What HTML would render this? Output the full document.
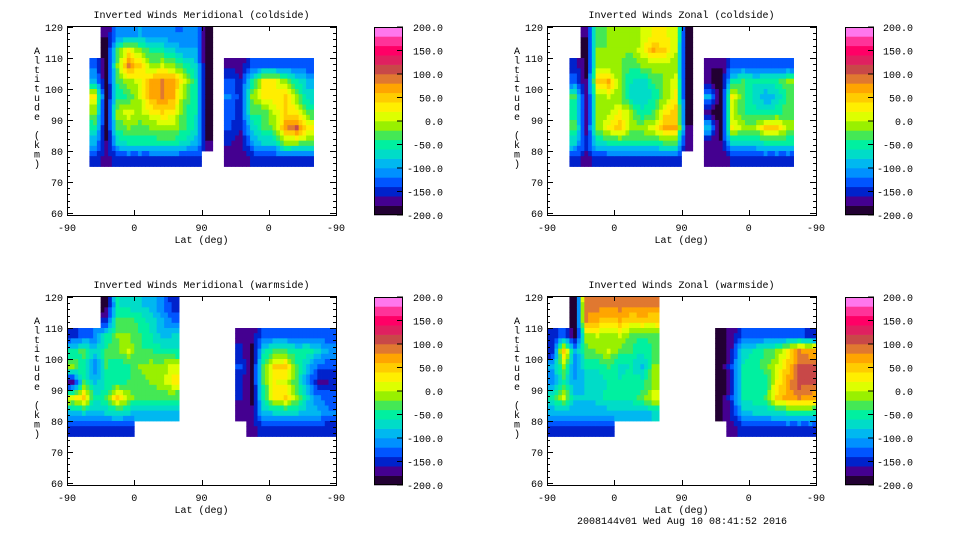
<!DOCTYPE html>
<html><head><meta charset="utf-8">
<style>
html,body{margin:0;padding:0;background:#fff;}
svg{display:block;}
text{font-family:"Liberation Mono",monospace;font-size:10px;fill:#000;}
</style></head>
<body>
<svg id="chart" width="960" height="540" viewBox="0 0 960 540" xmlns="http://www.w3.org/2000/svg"></svg>
<script>
const N = null;
// color levels (band lower bounds), -200..200 step 20
const levelEdges = [-200,-180,-160,-140,-120,-100,-80,-60,-40,-20,0,20,40,60,80,100,120,140,160,180,200];
const bandColors = ["#220033","#440090","#0022cc","#0055ff","#0090ff","#00b8f0","#00dcc8","#00f0a0","#44e855","#99f000",
                    "#ddff00","#ffee00","#ffcc00","#ffa500","#e07830","#c84848","#e02060","#ff0066","#ff3399","#ff77ee"];
const colorbarTicks = ["200.0","150.0","100.0","50.0","0.0","-50.0","-100.0","-150.0","-200.0"];
const colorbarTickValues = [200,150,100,50,0,-50,-100,-150,-200];
const altTicks = [60,70,80,90,100,110,120];
const latTickLabels = ["-90","0","90","0","-90"];
const latTickPos = [0,90,180,270,360];
// grid: columns span 15 units of track distance (0..360), rows 5 km (top row 115-120 ... bottom 75-80)
const colWidth = 15;
const rowAltTop = [120,115,110,105,100,95,90,85,80];
const rowAltBot = [115,110,105,100,95,90,85,80,75];
const titles = ["Inverted Winds Meridional (coldside)","Inverted Winds Zonal (coldside)","Inverted Winds Meridional (warmside)","Inverted Winds Zonal (warmside)"];

// each array = one column (u bins 0..23), values from top row to bottom row
const merCold = [
 [N,N,N,N,N,N,N,N,N],[N,N,N,N,N,N,N,N,N],
 [N,N,-130,-90,20,-20,-50,-100,-150],
 [-180,-190,-190,-190,-190,-190,-190,-180,-170],
 [-120,-40,-20,-40,-50,-10,-40,-80,-150],
 [-110,20,90,-10,-40,10,-20,-60,-150],
 [-100,-20,40,10,0,-10,-30,-60,-150],
 [-110,-50,-10,60,60,20,-20,-60,-150],
 [-110,-60,0,80,80,40,-10,-50,-150],
 [-120,-80,-20,70,60,30,-10,-50,-150],
 [-120,-100,-50,0,-20,-40,-40,-70,-150],
 [-110,-100,-80,-60,-60,-60,-70,-90,-150],
 [-200,-200,-200,-200,-200,-200,-190,-180,N],
 [N,N,N,N,N,N,N,N,N],
 [N,N,-170,-130,-120,-130,-140,-160,-180],
 [N,N,-170,-160,-150,-150,-160,-170,-180],
 [N,N,-140,-60,-20,-40,-80,-110,-160],
 [N,N,-130,20,20,-40,-30,-80,-150],
 [N,N,-130,20,30,0,-20,-80,-150],
 [N,N,-130,-20,40,40,70,-10,-150],
 [N,N,-130,-60,-20,30,100,-20,-150],
 [N,N,-140,-90,-70,-40,30,-30,-150],
 [N,N,N,N,N,N,N,N,N],[N,N,N,N,N,N,N,N,N]
];
const zonCold = [
 [N,N,N,N,N,N,N,N,N],[N,N,N,N,N,N,N,N,N],
 [N,N,-150,-130,-40,-60,-30,-80,-150],
 [-180,-190,-190,-180,-180,-180,-170,-150,-170],
 [-30,-20,-10,40,-10,-10,-20,-70,-150],
 [-20,-20,-20,60,0,-10,20,-60,-150],
 [-10,-10,-20,-20,-20,20,50,-50,-150],
 [-10,-20,-40,-60,-80,-10,-10,-50,-150],
 [0,10,-20,-80,-80,-60,-10,-50,-150],
 [20,60,-10,-40,-60,-40,10,-50,-150],
 [20,40,-10,-20,-20,30,60,-40,-150],
 [10,0,-10,10,30,50,60,-40,-150],
 [-190,-200,-200,-200,-200,-190,-180,-180,N],
 [N,N,N,N,N,N,N,N,N],
 [N,N,-180,-180,-100,-180,-90,-180,-180],
 [N,N,-180,-200,-200,-200,-200,-180,-180],
 [N,N,-140,-60,20,10,20,-80,-160],
 [N,N,-130,-40,-40,-40,-10,-80,-150],
 [N,N,-130,-60,-70,-50,-20,-80,-150],
 [N,N,-130,-50,-100,-60,40,-60,-150],
 [N,N,-130,-50,-80,-50,40,-60,-150],
 [N,N,-140,-20,-30,-30,-10,-60,-150],
 [N,N,N,N,N,N,N,N,N],[N,N,N,N,N,N,N,N,N]
];
const merWarm = [
 [N,N,-150,-60,-20,-180,10,-90,-150],
 [N,N,-130,-30,-60,-40,50,-80,-150],
 [N,N,-120,-80,-120,-90,-60,-90,-150],
 [-190,-160,-60,-40,-40,-60,-40,-80,-150],
 [-60,-40,-20,-30,-60,-50,50,-70,-150],
 [-70,-30,-20,0,-50,-40,-10,-80,-150],
 [-80,-50,-40,-40,-20,-30,-40,-90,N],
 [-90,-70,-60,-40,-10,-20,-40,-90,N],
 [-120,-100,-90,-50,-10,-10,-30,-90,N],
 [-150,-130,-80,-60,10,30,-40,-90,N],
 [N,N,N,N,N,N,N,N,N],[N,N,N,N,N,N,N,N,N],[N,N,N,N,N,N,N,N,N],[N,N,N,N,N,N,N,N,N],
 [N,N,N,N,N,N,N,N,N],
 [N,N,-170,-150,-140,-150,-160,-170,N],
 [N,N,-170,-190,-190,-190,-190,-170,-170],
 [N,N,-140,-70,-40,-40,-50,-90,-150],
 [N,N,-130,-40,40,20,30,-80,-150],
 [N,N,-130,-40,50,10,40,-80,-150],
 [N,N,-130,-60,-40,-40,-20,-80,-150],
 [N,N,-130,-50,-90,-110,-80,-90,-150],
 [N,N,-130,-80,-130,-170,-120,-100,-150],
 [N,N,-140,-110,-140,-160,-130,-120,-160]
];
const zonWarm = [
 [N,N,-160,-160,-100,-110,-60,-100,-150],
 [N,N,-130,50,-20,-50,0,-100,-150],
 [-200,-200,-190,-100,-120,-100,-80,-100,-160],
 [90,80,-10,-30,-60,-80,-80,-100,-150],
 [90,60,0,-20,-60,-80,-70,-100,-150],
 [80,50,-10,0,-40,-60,-50,-90,-150],
 [90,60,0,-30,-70,-60,-50,-90,N],
 [90,40,-30,-40,-60,-50,-50,-90,N],
 [90,50,-40,-60,-90,-50,-30,-90,N],
 [80,40,-30,-40,-20,-20,10,-80,N],
 [N,N,N,N,N,N,N,N,N],[N,N,N,N,N,N,N,N,N],[N,N,N,N,N,N,N,N,N],[N,N,N,N,N,N,N,N,N],
 [N,N,N,N,N,N,N,N,N],
 [N,N,-190,-200,-200,-200,-200,-190,N],
 [N,N,-170,-160,-140,-150,-140,-150,-170],
 [N,N,-140,-70,-60,-60,-60,-90,-150],
 [N,N,-130,-60,-50,-60,-50,-80,-150],
 [N,N,-130,-40,-30,-50,-40,-80,-150],
 [N,N,-130,-20,0,20,40,-70,-150],
 [N,N,-130,20,50,70,70,-60,-150],
 [N,N,-130,80,100,110,80,-60,-150],
 [N,N,-150,60,110,100,70,-60,-150]
];
const panelData = [merCold, zonCold, merWarm, zonWarm];

const svg = document.getElementById('chart');
const NS = "http://www.w3.org/2000/svg";
function mk(tag, attrs, parent){
  const e = document.createElementNS(NS, tag);
  for (const k in attrs) e.setAttribute(k, attrs[k]);
  (parent||svg).appendChild(e);
  return e;
}
function colorFor(v){
  let i = Math.floor((v + 200) / 20);
  if (i < 0) i = 0; if (i > 19) i = 19;
  return bandColors[i];
}
const panels = [
  {x0:67, x1:336, y0:26, y1:215, cbx:374, lblx:443},
  {x0:547, x1:816, y0:26, y1:215, cbx:845, lblx:913},
  {x0:67, x1:336, y0:296, y1:485, cbx:374, lblx:443},
  {x0:547, x1:816, y0:296, y1:485, cbx:845, lblx:913}
];
const panelNames = ["meridional-coldside","zonal-coldside","meridional-warmside","zonal-warmside"];

function getVal(data, c, r){
  if (c < 0 || c >= data.length) return null;
  if (r < 0 || r >= data[c].length) return null;
  return data[c][r];
}

panels.forEach((p, pi) => {
  const g = mk('g', {});
  
  
  const xs = u => p.x0 + (u / 360) * (p.x1 - p.x0);
  const ys = a => p.y1 - 2 - (a - 60) * 3.1;
  const data = panelData[pi];
  const field = mk('g', {}, g);
  
  
  const sub = 3;
  data.forEach((col, c) => {
    col.forEach((v, r) => {
      if (v === null) return;
      const uL = c * colWidth, uR = uL + colWidth;
      const aT = rowAltTop[r], aB = rowAltBot[r];
      for (let i = 0; i < sub; i++) {
        for (let j = 0; j < sub; j++) {
          const fx = (i + 0.5) / sub - 0.5, fy = (j + 0.5) / sub - 0.5;
          const dc = fx < 0 ? -1 : 1, dr = fy < 0 ? -1 : 1;
          const wx = Math.abs(fx), wy = Math.abs(fy);
          let vx = getVal(data, c + dc, r); if (vx === null) vx = v;
          let vy = getVal(data, c, r + dr); if (vy === null) vy = v;
          let vxy = getVal(data, c + dc, r + dr); if (vxy === null) vxy = (vx + vy) / 2;
          const val = v * (1 - wx) * (1 - wy) + vx * wx * (1 - wy) + vy * (1 - wx) * wy + vxy * wx * wy;
          const x = xs(uL + (uR - uL) * i / sub), x2 = xs(uL + (uR - uL) * (i + 1) / sub);
          const y = ys(aT - (aT - aB) * j / sub), y2 = ys(aT - (aT - aB) * (j + 1) / sub);
          const rc = mk('rect', {x: x.toFixed(2), y: y.toFixed(2), width: (x2 - x + 0.4).toFixed(2), height: (y2 - y + 0.4).toFixed(2), fill: colorFor(val)}, field);
          
          
        }
      }
    });
  });
  const fr = mk('rect', {x: p.x0 + 0.5, y: p.y0 + 0.5, width: p.x1 - p.x0, height: p.y1 - p.y0, fill: 'none', stroke: '#000', 'stroke-width': 1}, g);
  
  
  for (let a = 60; a <= 120; a += 2) {
    const y = Math.round(ys(a)) + 0.5;
    const len = (a % 10 === 0) ? 6 : 3;
    mk('line', {x1: p.x0, y1: y, x2: p.x0 + len, y2: y, stroke: '#000'}, g);
    mk('line', {x1: p.x1 - len, y1: y, x2: p.x1, y2: y, stroke: '#000'}, g);
  }
  altTicks.forEach(a => {
    const t = mk('text', {x: p.x0 - 4, y: ys(a) + 4, 'text-anchor': 'end', 'font-size': '11'}, g);
    t.textContent = a;
    
    
  });
  latTickPos.forEach((u, k) => {
    const x = Math.round(xs(u)) + 0.5;
    mk('line', {x1: x, y1: p.y1, x2: x, y2: p.y1 - 5, stroke: '#000'}, g);
    mk('line', {x1: x, y1: p.y0, x2: x, y2: p.y0 + 5, stroke: '#000'}, g);
    const t = mk('text', {x: xs(u), y: p.y1 + 16, 'text-anchor': 'middle', 'font-size': '11'}, g);
    t.textContent = latTickLabels[k];
    
    
  });
  const xt = mk('text', {x: (p.x0 + p.x1) / 2, y: p.y1 + 28, 'text-anchor': 'middle', 'font-size': '11'}, g);
  xt.textContent = 'Lat (deg)';
  
  
  const yt = mk('text', {x: 37, y: 0, 'text-anchor': 'middle', 'font-size': '11'}, g);
  
  
  const yl = 'Altitude (km)';
  const ybase = p.x0 === 67 ? 0 : 480;
  yt.setAttribute('x', 37 + ybase);
  for (let k = 0; k < yl.length; k++) {
    const ts = mk('tspan', {x: 37 + ybase, y: p.y0 + 28 + k * 9.4}, yt);
    ts.textContent = yl[k] === ' ' ? '\u00a0' : yl[k];
  }
  const tt = mk('text', {x: (p.x0 + p.x1) / 2, y: p.y0 - 8, 'text-anchor': 'middle', 'font-size': '10'}, g);
  tt.textContent = titles[pi];
  
  
  const cb = mk('g', {}, g);
  
  
  const cbTop = p.y0 + 1, cbBot = p.y1, cbW = 29;
  const cy = v => cbBot - (v + 200) / 400 * (cbBot - cbTop);
  bandColors.forEach((col, k) => {
    const r = mk('rect', {x: p.cbx, y: cy(levelEdges[k + 1]), width: cbW, height: cy(levelEdges[k]) - cy(levelEdges[k + 1]) + 0.3, fill: col}, cb);
    
    
  });
  mk('rect', {x: p.cbx + 0.5, y: cbTop + 0.5, width: cbW - 1, height: cbBot - cbTop - 1, fill: 'none', stroke: '#000'}, cb);
  colorbarTickValues.forEach((v, k) => {
    const y = cy(v);
    mk('line', {x1: p.cbx + cbW - 6, y1: y, x2: p.cbx + cbW, y2: y, stroke: '#000'}, cb);
    const t = mk('text', {x: p.lblx, y: y + 4, 'text-anchor': 'end', 'font-size': '11'}, cb);
    t.textContent = colorbarTicks[k];
    
    
  });
});
const ft = mk('text', {x: 682, y: 524, 'text-anchor': 'middle', 'font-size': '10'});
ft.textContent = '2008144v01 Wed Aug 10 08:41:52 2016';


</script>
</body></html>
